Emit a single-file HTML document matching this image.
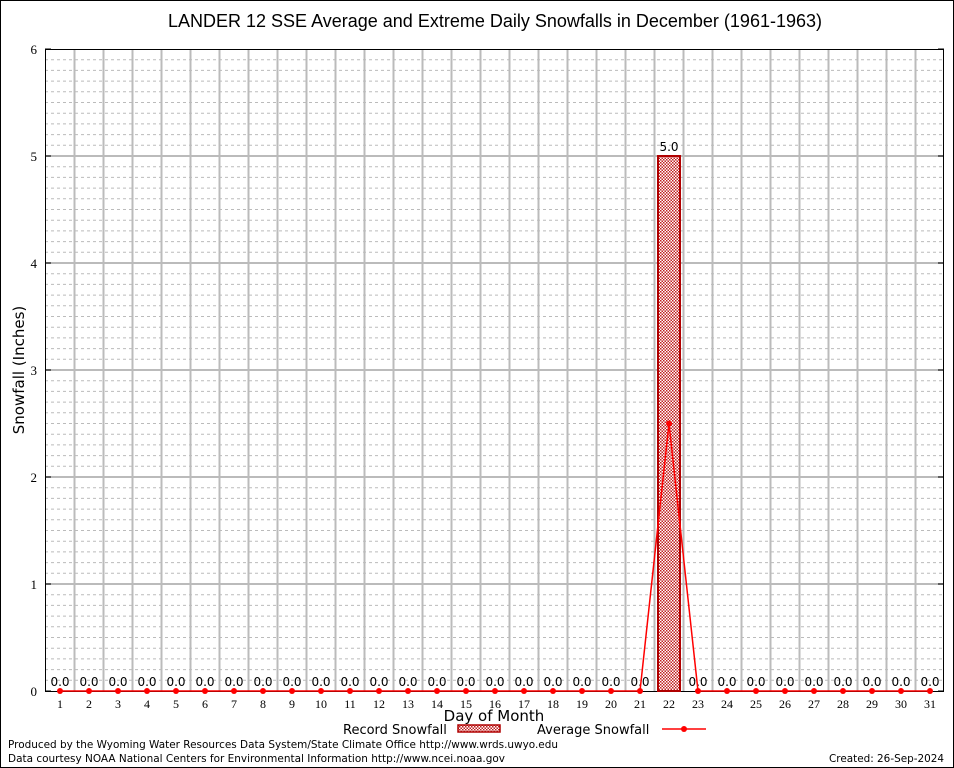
<!DOCTYPE html>
<html><head><meta charset="utf-8"><style>
body{margin:0;background:#fff}
svg{display:block;font-family:"DejaVu Sans","Liberation Sans",sans-serif}
</style></head><body>
<svg id="chart" width="954" height="768">
<defs><pattern id="chk" width="3" height="3" patternUnits="userSpaceOnUse"><rect width="3" height="3" fill="#fff"/><rect width="1.5" height="1.5" fill="#c02020"/><rect x="1.5" y="1.5" width="1.5" height="1.5" fill="#c02020"/></pattern></defs>
<rect x="0.5" y="0.5" width="953" height="767" fill="#fff" stroke="#000"/>
<text x="495" y="27" font-size="18" text-anchor="middle" font-family="Liberation Sans, sans-serif">LANDER 12 SSE Average and Extreme Daily Snowfalls in December (1961-1963)</text>
<g id="grid"></g><g id="marks"></g>
<text transform="translate(24,370) rotate(-90)" font-size="15" text-anchor="middle">Snowfall (Inches)</text>
<text x="494" y="721" font-size="15" text-anchor="middle">Day of Month</text>
<g><text x="343" y="734" font-size="13">Record Snowfall</text><rect x="458" y="725" width="42" height="7" fill="url(#chk)" stroke="#b00000" stroke-width="1.5"/></g>
<g><text x="537" y="734" font-size="13">Average Snowfall</text><line x1="662" y1="729" x2="706" y2="729" stroke="red" stroke-width="1.5"/><circle cx="684" cy="729" r="3" fill="red"/></g>
<text x="8" y="748" font-size="11" textLength="550" lengthAdjust="spacingAndGlyphs">Produced by the Wyoming Water Resources Data System/State Climate Office http://www.wrds.uwyo.edu</text>
<text x="8" y="762" font-size="11" textLength="497" lengthAdjust="spacingAndGlyphs">Data courtesy NOAA National Centers for Environmental Information http://www.ncei.noaa.gov</text>
<text x="829" y="762" font-size="11" textLength="115" lengthAdjust="spacingAndGlyphs">Created: 26-Sep-2024</text>
</svg>
<script>
const days=[1,2,3,4,5,6,7,8,9,10,11,12,13,14,15,16,17,18,19,20,21,22,23,24,25,26,27,28,29,30,31];
const recordSnow=[0,0,0,0,0,0,0,0,0,0,0,0,0,0,0,0,0,0,0,0,0,5.0,0,0,0,0,0,0,0,0,0];
const avgSnow=[0,0,0,0,0,0,0,0,0,0,0,0,0,0,0,0,0,0,0,0,0,2.5,0,0,0,0,0,0,0,0,0];
const yTicks=[0,1,2,3,4,5,6];
const NS="http://www.w3.org/2000/svg";
const L=45,R=944,T=49,B=691;
const x=d=>60+(d-1)*29, y=v=>B-(v/6)*(B-T);
function mk(p,t,a){const e=document.createElementNS(NS,t);for(const k in a)e.setAttribute(k,a[k]);p.appendChild(e);return e;}
const g=document.getElementById('grid'),m=document.getElementById('marks');
for(let i=0;i<60;i++){if(i%10)mk(g,'line',{x1:L,x2:R,y1:y(i/10),y2:y(i/10),stroke:'#bbb','stroke-dasharray':'3,3','stroke-width':1});}
for(let d=1;d<31;d++)mk(g,'line',{x1:x(d)+14.5,x2:x(d)+14.5,y1:T,y2:B,stroke:'#bbb','stroke-width':2});
yTicks.forEach(v=>{if(v>0&&v<6)mk(g,'line',{x1:L,x2:R,y1:y(v),y2:y(v),stroke:'#bbb','stroke-width':2});
const t=mk(g,'text',{x:L-8,y:y(v)+5,'font-size':13,'text-anchor':'end','font-family':'Liberation Serif, serif'});t.textContent=v;


mk(g,'line',{x1:L,x2:L+6,y1:y(v),y2:y(v),stroke:'#000'});mk(g,'line',{x1:R-6,x2:R,y1:y(v),y2:y(v),stroke:'#000'});});
mk(g,'rect',{x:L+0.5,y:T+0.5,width:R-L-1,height:B-T,fill:'none',stroke:'#000'});
days.forEach((d,i)=>{
const t=mk(g,'text',{x:x(d),y:B+17,'font-size':12,'text-anchor':'middle','font-family':'Liberation Serif, serif'});t.textContent=d;


const v=recordSnow[i];
if(v>0){const r=mk(m,'rect',{x:x(d)-11,y:y(v),width:22,height:B-y(v),fill:'url(#chk)',stroke:'#b00000','stroke-width':2});

}
const lb=mk(m,'text',{x:x(d),y:y(v)-5,'font-size':12,'text-anchor':'middle'});lb.textContent=v.toFixed(1);


});
const pts=days.map((d,i)=>x(d)+','+y(avgSnow[i])).join(' ');
const pl=mk(m,'polyline',{points:pts,fill:'none',stroke:'red','stroke-width':1.5});


days.forEach((d,i)=>{const c=mk(m,'circle',{cx:x(d),cy:y(avgSnow[i]),r:3,fill:'red'});

});
</script>
</body></html>
